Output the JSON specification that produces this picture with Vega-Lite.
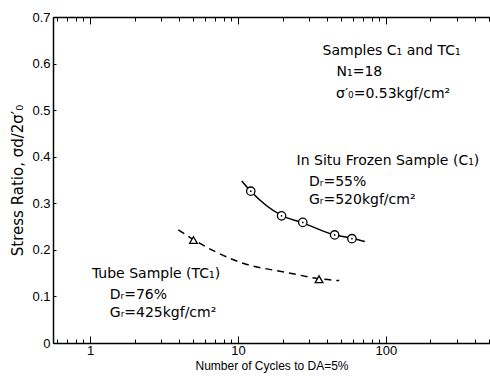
{
  "$schema": "https://vega.github.io/schema/vega-lite/v6.json",
  "width": 437,
  "height": 326,
  "autosize": {"type": "none"},
  "padding": {"left": 53, "top": 17, "right": 0, "bottom": 34},
  "config": {
    "font": "Liberation Sans",
    "view": {"stroke": null},
    "axis": {"grid": false, "domainColor": "black", "domainWidth": 1.5, "tickColor": "black", "labelColor": "black", "titleColor": "black", "titleFontWeight": "normal"}
  },
  "datasets": {
    "solid": [
      {"n": 10.6, "r": 0.348}, {"n": 12.2, "r": 0.326}, {"n": 19.7, "r": 0.274}, {"n": 27.4, "r": 0.258},
      {"n": 45, "r": 0.232}, {"n": 58.9, "r": 0.225}, {"n": 72, "r": 0.218}
    ],
    "dashed": [
      {"n": 3.95, "r": 0.243}, {"n": 5, "r": 0.222}, {"n": 10, "r": 0.175}, {"n": 22.5, "r": 0.150},
      {"n": 35.3, "r": 0.138}, {"n": 48.3, "r": 0.134}
    ],
    "circles": [
      {"n": 12.2, "r": 0.326}, {"n": 19.7, "r": 0.273}, {"n": 27.4, "r": 0.259}, {"n": 45, "r": 0.232}, {"n": 58.9, "r": 0.224}
    ],
    "triangles": [
      {"n": 5, "r": 0.221}, {"n": 35.3, "r": 0.137}
    ],
    "labels": [
      {"n": 37.3, "r": 0.628, "t": "Samples C₁ and TC₁", "s": "normal"},
      {"n": 46.4, "r": 0.582, "t": "N₁=18", "s": "normal"},
      {"n": 46, "r": 0.535, "t": "σ′₀=0.53kgf/cm²", "s": "normal"},
      {"n": 24.9, "r": 0.391, "t": "In Situ Frozen Sample (C₁)", "s": "normal"},
      {"n": 30.2, "r": 0.346, "t": "Dᵣ=55%", "s": "normal"},
      {"n": 30.2, "r": 0.307, "t": "Gᵣ=520kgf/cm²", "s": "normal"},
      {"n": 1.03, "r": 0.148, "t": "Tube Sample (TC₁)", "s": "italic"},
      {"n": 1.36, "r": 0.103, "t": "Dᵣ=76%", "s": "normal"},
      {"n": 1.36, "r": 0.064, "t": "Gᵣ=425kgf/cm²", "s": "normal"}
    ]
  },
  "resolve": {"axis": {"x": "independent"}},
  "layer": [
    {
      "data": {"name": "solid"},
      "mark": {"type": "line", "interpolate": "monotone", "color": "black", "strokeWidth": 1.5},
      "encoding": {
        "x": {"field": "n", "type": "quantitative",
          "scale": {"type": "log", "domain": [0.562, 505], "nice": false},
          "axis": {"orient": "bottom", "title": "Number of Cycles to DA=5%", "titleFontSize": 12, "titlePadding": 0,
            "values": [0.6,0.7,0.8,0.9,1,2,3,4,5,6,7,8,9,10,20,30,40,50,60,70,80,90,100,200,300,400,500],
            "labelExpr": "(datum.value==1||datum.value==10||datum.value==100) ? datum.label : ''",
            "format": "d",
            "labelFontSize": 13, "labelPadding": 8, "labelFlush": false, "labelOverlap": false,
            "tickSize": {"condition": {"test": "datum.value==1||datum.value==10||datum.value==100", "value": -7}, "value": -4}}},
        "y": {"field": "r", "type": "quantitative",
          "scale": {"domain": [0, 0.7], "nice": false},
          "axis": {"title": "Stress Ratio,  σd/2σ′₀", "titleFont": "DejaVu Sans", "titleFontSize": 15, "titlePadding": 6,
            "values": [0, 0.1, 0.2, 0.3, 0.4, 0.5, 0.6, 0.7],
            "labelExpr": "datum.value==0 ? '0' : format(datum.value, '.1f')",
            "labelFontSize": 13, "labelPadding": 6, "tickSize": -3, "labelFlush": false}}
      }
    },
    {
      "data": {"name": "dashed"},
      "mark": {"type": "line", "interpolate": "monotone", "color": "black", "strokeWidth": 1.5, "strokeDash": [7, 5]},
      "encoding": {
        "x": {"field": "n", "type": "quantitative", "axis": null},
        "y": {"field": "r", "type": "quantitative"}
      }
    },
    {
      "data": {"name": "circles"},
      "mark": {"type": "point", "shape": "circle", "filled": true, "fill": "white", "stroke": "black", "strokeWidth": 1.3, "size": 70, "opacity": 1},
      "encoding": {
        "x": {"field": "n", "type": "quantitative", "axis": null},
        "y": {"field": "r", "type": "quantitative"}
      }
    },
    {
      "data": {"name": "circles"},
      "mark": {"type": "point", "shape": "circle", "filled": true, "color": "black", "size": 3, "opacity": 1},
      "encoding": {
        "x": {"field": "n", "type": "quantitative", "axis": null},
        "y": {"field": "r", "type": "quantitative"}
      }
    },
    {
      "data": {"name": "triangles"},
      "mark": {"type": "point", "shape": "triangle-up", "filled": true, "fill": "white", "stroke": "black", "strokeWidth": 1.3, "size": 60, "opacity": 1},
      "encoding": {
        "x": {"field": "n", "type": "quantitative", "axis": null},
        "y": {"field": "r", "type": "quantitative"}
      }
    },
    {
      "data": {"name": "labels"},
      "mark": {"type": "text", "align": "left", "baseline": "middle", "fontSize": 14, "color": "black", "font": "DejaVu Sans"},
      "encoding": {
        "x": {"field": "n", "type": "quantitative", "axis": null},
        "y": {"field": "r", "type": "quantitative"},
        "text": {"field": "t"},
        "fontStyle": {"field": "s", "type": "nominal", "scale": null}
      }
    },
    {
      "data": {"name": "circles"},
      "mark": {"type": "point", "opacity": 0},
      "encoding": {
        "x": {"field": "n", "type": "quantitative",
          "axis": {"orient": "top", "title": null, "labels": false,
            "values": [0.6,0.7,0.8,0.9,1,2,3,4,5,6,7,8,9,10,20,30,40,50,60,70,80,90,100,200,300,400,500],
            "tickSize": {"condition": {"test": "datum.value==1||datum.value==10||datum.value==100", "value": -7}, "value": -4}}}
      }
    }
  ]
}
